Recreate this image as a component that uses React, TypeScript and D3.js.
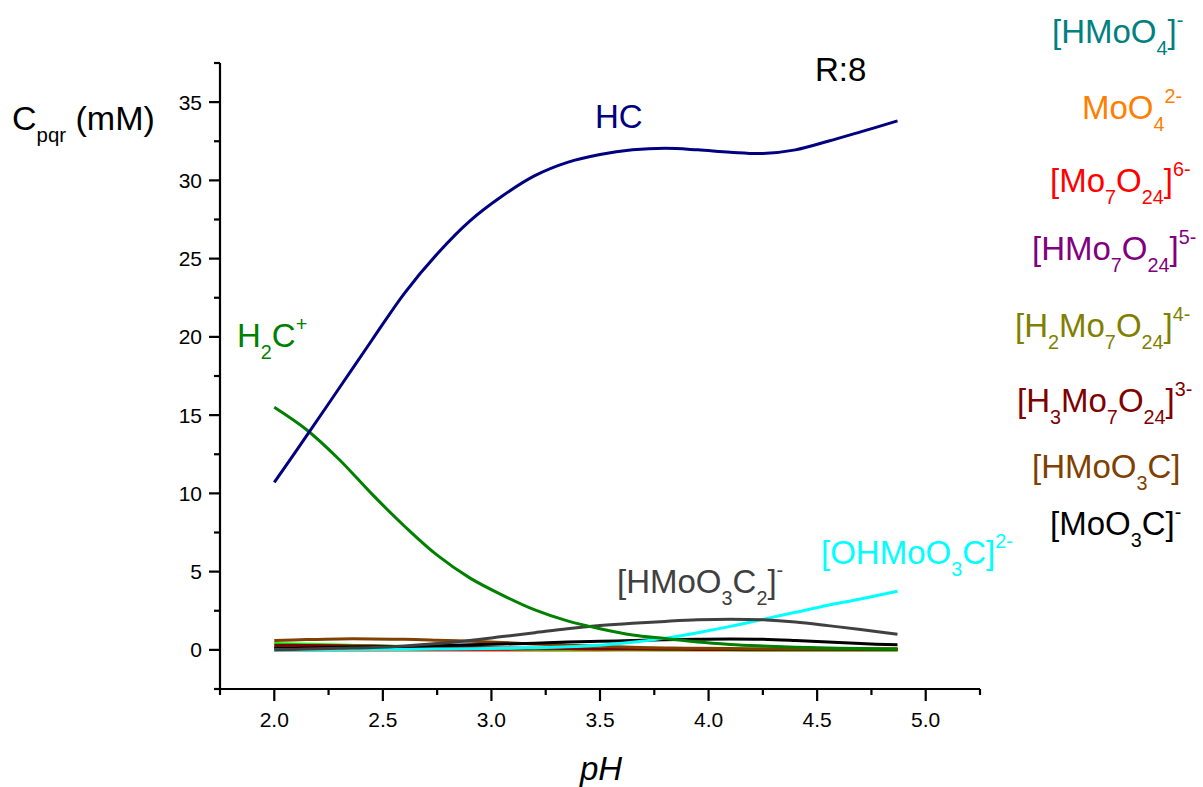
import React from "react";
import * as d3 from "d3";

const W = 1203;
const H = 787;

const pH = [2.0, 2.15, 2.3, 2.45, 2.6, 2.75, 2.9, 3.05, 3.2, 3.35, 3.5, 3.65, 3.8, 3.95, 4.1, 4.25, 4.4, 4.55, 4.7, 4.87];

const HC = [10.7, 13.7, 16.75, 19.8, 22.8, 25.3, 27.4, 29.0, 30.3, 31.15, 31.65, 31.95, 32.05, 31.95, 31.8, 31.72, 31.95, 32.5, 33.1, 33.8];
const H2C = [15.5, 14.05, 12.15, 9.95, 7.9, 6.05, 4.6, 3.5, 2.55, 1.85, 1.35, 0.95, 0.72, 0.5, 0.35, 0.25, 0.17, 0.12, 0.08, 0.05];
const HMoO3C2 = [0.0, 0.05, 0.1, 0.15, 0.25, 0.4, 0.6, 0.85, 1.1, 1.35, 1.55, 1.7, 1.82, 1.92, 1.96, 1.92, 1.78, 1.55, 1.3, 1.0];
const OHMoO3C = [0.0, 0.0, 0.01, 0.02, 0.03, 0.05, 0.07, 0.1, 0.14, 0.2, 0.3, 0.48, 0.75, 1.1, 1.5, 1.95, 2.4, 2.85, 3.25, 3.75];
const MoO3C = [0.1, 0.12, 0.15, 0.18, 0.22, 0.27, 0.32, 0.37, 0.43, 0.5, 0.55, 0.6, 0.65, 0.68, 0.7, 0.68, 0.6, 0.5, 0.4, 0.32];
const HMoO3C = [0.6, 0.66, 0.7, 0.7, 0.68, 0.62, 0.55, 0.47, 0.38, 0.3, 0.23, 0.17, 0.12, 0.1, 0.08, 0.07, 0.06, 0.05, 0.05, 0.05];
const H3Mo7O24 = [0.3, 0.28, 0.26, 0.24, 0.21, 0.18, 0.15, 0.12, 0.1, 0.08, 0.06, 0.05, 0.04, 0.03, 0.03, 0.02, 0.02, 0.02, 0.02, 0.02];
const H2Mo7O24 = [0.15, 0.14, 0.13, 0.12, 0.1, 0.09, 0.08, 0.07, 0.06, 0.05, 0.04, 0.03, 0.03, 0.02, 0.02, 0.01, 0.01, 0.01, 0.01, 0.01];
const HMo7O24 = [0.08, 0.08, 0.07, 0.07, 0.06, 0.06, 0.05, 0.05, 0.04, 0.04, 0.03, 0.03, 0.02, 0.02, 0.02, 0.01, 0.01, 0.01, 0.01, 0.01];
const Mo7O24 = [0.01, 0.01, 0.01, 0.01, 0.01, 0.01, 0.01, 0.01, 0.01, 0.01, 0.01, 0.01, 0.01, 0.01, 0.01, 0.01, 0.01, 0.01, 0.01, 0.01];
const MoO4 = [0.0, 0.0, 0.0, 0.0, 0.0, 0.0, 0.0, 0.0, 0.0, 0.0, 0.0, 0.01, 0.01, 0.01, 0.02, 0.02, 0.03, 0.04, 0.05, 0.07];
const HMoO4 = [0.02, 0.02, 0.02, 0.02, 0.02, 0.02, 0.02, 0.02, 0.02, 0.02, 0.02, 0.02, 0.02, 0.02, 0.02, 0.02, 0.02, 0.02, 0.02, 0.02];
const Cfree = [0.4, 0.36, 0.31, 0.26, 0.21, 0.16, 0.12, 0.09, 0.06, 0.04, 0.03, 0.02, 0.01, 0.01, 0.0, 0.0, 0.0, 0.0, 0.0, 0.0];

const xTicks = [2.0, 2.5, 3.0, 3.5, 4.0, 4.5, 5.0];
const xTickLabels = ["2.0", "2.5", "3.0", "3.5", "4.0", "4.5", "5.0"];
const yTicks = [0, 5, 10, 15, 20, 25, 30, 35];
const yTickLabels = ["0", "5", "10", "15", "20", "25", "30", "35"];

const series = [
  { name: "HMoO4", values: HMoO4, color: "#008080" },
  { name: "MoO4", values: MoO4, color: "#ff8000" },
  { name: "Mo7O24", values: Mo7O24, color: "#ff0000" },
  { name: "HMo7O24", values: HMo7O24, color: "#800080" },
  { name: "H2Mo7O24", values: H2Mo7O24, color: "#808000" },
  { name: "Cfree", values: Cfree, color: "#00ff00" },
  { name: "H3Mo7O24", values: H3Mo7O24, color: "#800000" },
  { name: "HMoO3C", values: HMoO3C, color: "#804000" },
  { name: "MoO3C", values: MoO3C, color: "#000000" },
  { name: "OHMoO3C", values: OHMoO3C, color: "#00ffff" },
  { name: "HMoO3C2", values: HMoO3C2, color: "#404040" },
  { name: "H2C", values: H2C, color: "#008000" },
  { name: "HC", values: HC, color: "#000080" },
];

type Part = [string, "n" | "b" | "p"];

function Formula({ x, y, size, color, parts, italic }: { x: number; y: number; size: number; color: string; parts: Part[]; italic?: boolean }) {
  let cur = 0;
  const subOff = size * 0.36;
  const supOff = -size * 0.5;
  return (
    <text x={x} y={y} fontSize={size} fill={color} fontStyle={italic ? "italic" : "normal"}>
      {parts.map(([t, m], i) => {
        const target = m === "b" ? subOff : m === "p" ? supOff : 0;
        const dy = target - cur;
        cur = target;
        return (
          <tspan key={i} dy={dy} fontSize={m === "n" ? size : size * 0.6}>
            {t}
          </tspan>
        );
      })}
    </text>
  );
}

const legend: { parts: Part[]; color: string; x: number; y: number }[] = [
  { parts: [["[HMoO", "n"], ["4", "b"], ["]", "n"], ["-", "p"]], color: "#008080", x: 1052, y: 43 },
  { parts: [["MoO", "n"], ["4", "b"], ["2-", "p"]], color: "#ff8000", x: 1082, y: 119 },
  { parts: [["[Mo", "n"], ["7", "b"], ["O", "n"], ["24", "b"], ["]", "n"], ["6-", "p"]], color: "#ff0000", x: 1050, y: 192 },
  { parts: [["[HMo", "n"], ["7", "b"], ["O", "n"], ["24", "b"], ["]", "n"], ["5-", "p"]], color: "#800080", x: 1032, y: 260 },
  { parts: [["[H", "n"], ["2", "b"], ["Mo", "n"], ["7", "b"], ["O", "n"], ["24", "b"], ["]", "n"], ["4-", "p"]], color: "#808000", x: 1015, y: 337 },
  { parts: [["[H", "n"], ["3", "b"], ["Mo", "n"], ["7", "b"], ["O", "n"], ["24", "b"], ["]", "n"], ["3-", "p"]], color: "#800000", x: 1017, y: 412 },
  { parts: [["[HMoO", "n"], ["3", "b"], ["C]", "n"]], color: "#804000", x: 1032, y: 478 },
  { parts: [["[MoO", "n"], ["3", "b"], ["C]", "n"], ["-", "p"]], color: "#000000", x: 1050, y: 535 },
];

export default function App() {
  const x = d3.scaleLinear().domain([1.75, 5.25]).range([220, 980]);
  const y = d3.scaleLinear().domain([-2.5, 37.5]).range([689, 63]);
  const line = d3
    .line<number>()
    .x((_, i) => x(pH[i]))
    .y((v) => y(v))
    .curve(d3.curveCatmullRom.alpha(0.5));

  const xMinor = d3.range(1.75, 5.26, 0.5);
  const yMinor = d3.range(-2.5, 37.6, 5);
  const x0 = x.range()[0];
  const yb = y.range()[0];
  const FS = 33;

  return (
    <svg width={W} height={H} style={{ position: "absolute", left: 0, top: 0, background: "#fff" }} fontFamily="'Liberation Sans', Arial, sans-serif">
      <rect width={W} height={H} fill="#fff" />
      {series.map((s) => (
        <path key={s.name} d={line(s.values) || ""} fill="none" stroke={s.color} strokeWidth={3} strokeLinejoin="round" />
      ))}
      <g stroke="#000" strokeWidth={2.2}>
        <line x1={x0} y1={y.range()[1]} x2={x0} y2={yb} />
        <line x1={x0} y1={yb} x2={x.range()[1]} y2={yb} />
        {yTicks.map((t) => (
          <line key={"ym" + t} x1={x0 - 11} x2={x0} y1={y(t)} y2={y(t)} />
        ))}
        {yMinor.map((t) => (
          <line key={"yn" + t} x1={x0 - 6} x2={x0} y1={y(t)} y2={y(t)} />
        ))}
        {xTicks.map((t) => (
          <line key={"xm" + t} x1={x(t)} x2={x(t)} y1={yb} y2={yb + 12} />
        ))}
        {xMinor.map((t) => (
          <line key={"xn" + t} x1={x(t)} x2={x(t)} y1={yb} y2={yb + 6} />
        ))}
      </g>
      {yTicks.map((t, i) => (
        <text key={"yl" + t} x={x0 - 18} y={y(t) + 7.5} fontSize={21} textAnchor="end" fill="#000">
          {yTickLabels[i]}
        </text>
      ))}
      {xTicks.map((t, i) => (
        <text key={"xl" + t} x={x(t)} y={yb + 38} fontSize={21} textAnchor="middle" fill="#000">
          {xTickLabels[i]}
        </text>
      ))}
      <text x={601} y={780} fontSize={FS} fontStyle="italic" textAnchor="middle" fill="#000">pH</text>
      <Formula x={12} y={130} size={34} color="#000" parts={[["C", "n"], ["pqr", "b"], [" (mM)", "n"]]} />
      <text x={815} y={81} fontSize={FS} fill="#000">R:8</text>
      <Formula x={595} y={128} size={FS} color="#000080" parts={[["HC", "n"]]} />
      <Formula x={237} y={347} size={FS} color="#008000" parts={[["H", "n"], ["2", "b"], ["C", "n"], ["+", "p"]]} />
      <Formula x={617} y={593} size={FS} color="#404040" parts={[["[HMoO", "n"], ["3", "b"], ["C", "n"], ["2", "b"], ["]", "n"], ["-", "p"]]} />
      <Formula x={821} y={564} size={FS} color="#00ffff" parts={[["[OHMoO", "n"], ["3", "b"], ["C]", "n"], ["2-", "p"]]} />
      {legend.map((l, i) => (
        <Formula key={i} x={l.x} y={l.y} size={FS} color={l.color} parts={l.parts} />
      ))}
    </svg>
  );
}
